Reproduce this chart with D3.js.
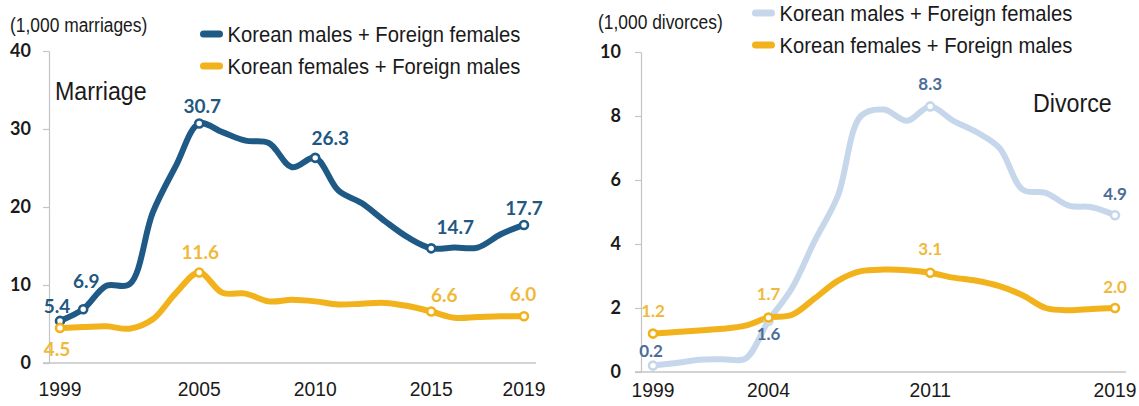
<!DOCTYPE html>
<html><head><meta charset="utf-8">
<script src="https://cdn.jsdelivr.net/npm/d3@7"></script>
<style>
html,body{margin:0;padding:0;background:#fff;}
svg{display:block;}
</style></head>
<body>
<script>
// ---------- DATA ----------
const years = [1999,2000,2001,2002,2003,2004,2005,2006,2007,2008,2009,2010,2011,2012,2013,2014,2015,2016,2017,2018,2019];
const marriageKMFF = [5.4,6.9,9.9,10.1,19.3,25.3,30.7,29.6,28.5,28.2,25.1,26.3,22.1,20.5,18.2,16.1,14.7,14.8,14.8,16.5,17.7];
const marriageKFFM = [4.5,4.6,4.7,4.4,5.6,9.0,11.6,9.0,8.9,7.9,8.1,7.9,7.5,7.6,7.7,7.3,6.6,5.8,5.9,6.0,6.0];
const divorceKMFF  = [0.2,0.28,0.38,0.4,0.42,1.6,2.6,4.1,5.5,8.0,8.2,7.85,8.3,7.85,7.5,7.0,5.7,5.6,5.2,5.15,4.9];
const divorceKFFM  = [1.2,1.25,1.3,1.35,1.45,1.7,1.78,2.3,2.85,3.15,3.2,3.18,3.1,2.95,2.85,2.68,2.4,2.0,1.93,1.97,2.0];
const seriesNames = ["Korean males + Foreign females","Korean females + Foreign males"];
const marriageTicksX = [1999,2005,2010,2015,2019];
const divorceTicksX = [1999,2004,2011,2019];
const marriageTicksY = [0,10,20,30,40];
const divorceTicksY = [0,2,4,6,8,10];
const marriageMarkedKMFF = [1999,2000,2005,2010,2015,2019];
const marriageMarkedKFFM = [1999,2005,2015,2019];
const divorceMarked = [1999,2004,2011,2019];

// ---------- STYLE ----------
const C = {
  dark:"#1f5a87", darkLbl:"#22587f",
  gold:"#f2b21c", goldLbl:"#f0b93c",
  light:"#c7d7eb", lightLbl:"#4c6d98",
  axis:"#c4c4c4", text:"#1a1a1a"
};
const SANS = "'Liberation Sans', Arial, sans-serif";
const NUM = "Lato, 'Open Sans', sans-serif";

const svg = d3.select("body").append("svg").attr("width",1139).attr("height",406);

function txt(g, x, y, s, o){
  const t = g.append("text")
    .attr("transform", `translate(${x},${y}) scale(${o.sx||1},1)`)
    .attr("font-family", o.ff||SANS).attr("font-size", o.fs||20)
    .attr("font-weight", o.fw||400).attr("fill", o.fill||C.text)
    .attr("text-anchor", o.anchor||"start")
    .text(s);
  if(o.ls) t.attr("letter-spacing", o.ls);
  return t;
}

function panel(cfg){
  const g = svg.append("g");
  const x = d3.scaleLinear().domain([1999,2019]).range(cfg.xr);
  const y = d3.scaleLinear().domain(cfg.yd).range(cfg.yr);

  // y axis
  const ya = d3.axisLeft(y).tickValues(cfg.yTicks).tickSize(6).tickSizeOuter(0).tickPadding(cfg.tickPad);
  const yg = g.append("g").attr("transform",`translate(${cfg.yAxisX},0)`).call(ya);
  yg.select(".domain").attr("stroke",C.axis).attr("stroke-width",1.2);
  yg.selectAll(".tick line").attr("stroke",C.axis).attr("stroke-width",1.2);
  yg.selectAll(".tick text").attr("font-family",NUM).attr("font-weight",700)
    .attr("font-size",18).attr("fill",C.text);

  // x baseline
  g.append("line").attr("x1",cfg.baseX[0]).attr("x2",cfg.baseX[1])
    .attr("y1",y(0)).attr("y2",y(0)).attr("stroke",C.axis).attr("stroke-width",1.4);

  // x labels
  cfg.xTicks.forEach(v=>{
    txt(g, x(v), cfg.xLblY, String(v), {fs:21, sx:0.92, anchor:"middle"});
  });

  // lines
  const line = d3.line().x((d,i)=>x(years[i])).y(d=>y(d)).curve(d3.curveCatmullRom.alpha(0.5));
  cfg.series.forEach(s=>{
    g.append("path").datum(s.values).attr("d",line).attr("fill","none")
      .attr("stroke",s.color).attr("stroke-width",s.w).attr("stroke-linejoin","round").attr("stroke-linecap","round");
  });
  cfg.series.forEach(s=>{
    s.marks.forEach(m=>{
      const i = years.indexOf(m.year);
      const v = s.values[i];
      g.append("circle").attr("cx",x(m.year)).attr("cy",y(v)).attr("r",4)
        .attr("fill","#fff").attr("stroke",s.color).attr("stroke-width",2.6);
    });
  });
  cfg.series.forEach(s=>{
    s.marks.forEach(m=>{
      const i = years.indexOf(m.year);
      const v = s.values[i];
      txt(g, x(m.year)+m.dx, y(v)+m.dy, v.toFixed(1),
        {ff:NUM, fw:700, fs:cfg.lblFs, fill:s.lbl, anchor:"middle"});
    });
  });

  // unit label
  txt(g, cfg.unit[0], cfg.unit[1], cfg.unitText, {fs:20, sx:0.87});
  // title
  txt(g, cfg.title[0], cfg.title[1], cfg.titleText, {fs:25, sx:0.93});
  // legend
  cfg.series.forEach((s,k)=>{
    const ly = cfg.leg[1] + k*32;
    g.append("line").attr("x1",cfg.leg[0]).attr("x2",cfg.leg[0]+16)
      .attr("y1",ly).attr("y2",ly).attr("stroke",s.color).attr("stroke-width",7).attr("stroke-linecap","round");
    txt(g, cfg.leg[0]+24, ly+8, seriesNames[k], {fs:22, sx:0.92});
  });
}

panel({
  xr:[60,524], yd:[0,40], yr:[363,51], yTicks:marriageTicksY, yAxisX:49, tickPad:12,
  baseX:[43,536], xTicks:marriageTicksX, xLblY:396, lblFs:19,
  unit:[10,32], unitText:"(1,000 marriages)",
  title:[55,100], titleText:"Marriage",
  leg:[203.5,34],
  series:[
    {values:marriageKMFF, color:C.dark, lbl:C.darkLbl, w:6,
     marks:[{year:1999,dx:-3,dy:-8},{year:2000,dx:3,dy:-21},{year:2005,dx:3,dy:-11},{year:2010,dx:15,dy:-13},{year:2015,dx:24,dy:-14},{year:2019,dx:0,dy:-10}].filter(m=>marriageMarkedKMFF.includes(m.year))},
    {values:marriageKFFM, color:C.gold, lbl:C.goldLbl, w:6,
     marks:[{year:1999,dx:-3,dy:28},{year:2005,dx:1,dy:-14},{year:2015,dx:13,dy:-10},{year:2019,dx:-1,dy:-15}].filter(m=>marriageMarkedKFFM.includes(m.year))}
  ]
});

panel({
  xr:[653,1115], yd:[0,10], yr:[372,52], yTicks:divorceTicksY, yAxisX:641, tickPad:14,
  baseX:[635,1126], xTicks:divorceTicksX, xLblY:397, lblFs:17,
  unit:[598,29], unitText:"(1,000 divorces)",
  title:[1033,112], titleText:"Divorce",
  leg:[755.5,13],
  series:[
    {values:divorceKMFF, color:C.light, lbl:C.lightLbl, w:6,
     marks:[{year:1999,dx:-2,dy:-9},{year:2004,dx:0,dy:19},{year:2011,dx:0,dy:-16},{year:2019,dx:0,dy:-15}].filter(m=>divorceMarked.includes(m.year))},
    {values:divorceKFFM, color:C.gold, lbl:C.goldLbl, w:6,
     marks:[{year:1999,dx:0,dy:-17},{year:2004,dx:0,dy:-18},{year:2011,dx:0,dy:-18},{year:2019,dx:0,dy:-15}].filter(m=>divorceMarked.includes(m.year))}
  ]
});
</script>
</body></html>
